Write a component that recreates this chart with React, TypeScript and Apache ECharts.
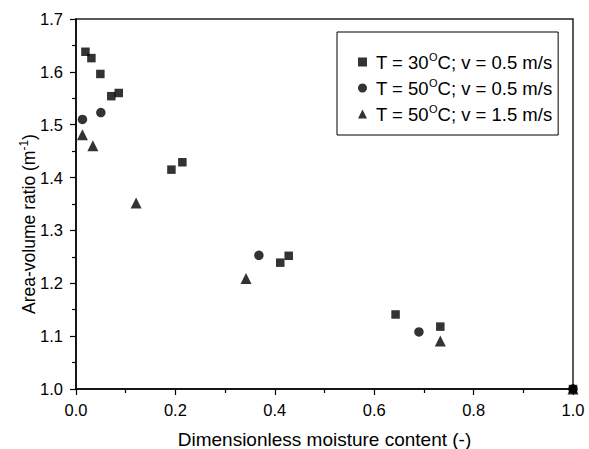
import React, { useEffect, useRef } from "react";
import * as echarts from "echarts";

const X_30_05 = [0.019, 0.031, 0.049, 0.071, 0.086, 0.192, 0.214, 0.411, 0.428, 0.643, 0.733, 1.0];
const Y_30_05 = [1.638, 1.626, 1.596, 1.554, 1.560, 1.415, 1.429, 1.239, 1.252, 1.141, 1.118, 1.0];
const X_50_05 = [0.013, 0.05, 0.368, 0.69, 1.0];
const Y_50_05 = [1.51, 1.523, 1.253, 1.108, 1.0];
const X_50_15 = [0.013, 0.034, 0.121, 0.342, 0.733, 1.0];
const Y_50_15 = [1.481, 1.46, 1.352, 1.209, 1.091, 1.0];

const SERIES_NAMES = ["T = 30OC; v = 0.5 m/s", "T = 50OC; v = 0.5 m/s", "T = 50OC; v = 1.5 m/s"];
const LEGEND_RICH = [
  "T = 30{sup|O}C; v = 0.5 m/s",
  "T = 50{sup|O}C; v = 0.5 m/s",
  "T = 50{sup|O}C; v = 1.5 m/s",
];
const X_TITLE = "Dimensionless moisture content (-)";
const Y_TITLE = "Area-volume ratio (m{sup|-1})";

const FONT = "'Liberation Sans', Arial, Helvetica, sans-serif";

const zip = (xs: number[], ys: number[]) => xs.map((x, i) => [x, ys[i]]);

export default function App() {
  const ref = useRef<HTMLDivElement>(null);
  useEffect(() => {
    if (!ref.current) return;
    const chart = echarts.init(ref.current, undefined, { renderer: "svg" });
    const sup = { fontSize: 11, lineHeight: 11, padding: [0, 0, 10, 0], fontFamily: FONT, color: "#000" };
    const supY = { fontSize: 12, lineHeight: 12, padding: [0, 0, 11, 0], fontFamily: FONT, color: "#000" };
    const axisCommon = {
      axisLine: { show: true, lineStyle: { color: "#000", width: 1.5 } },
      axisTick: { show: true, inside: false, length: 6, lineStyle: { color: "#000", width: 1.2 } },
      minorTick: { show: true, splitNumber: 2, length: 4, lineStyle: { color: "#000", width: 1.2 } },
      splitLine: { show: false },
    };
    const mk = (name: string, data: number[][], symbol: string, size: number) => ({
      type: "scatter",
      name,
      data,
      symbol,
      symbolSize: size,
      clip: true,
      itemStyle: { color: "#000" },
    });
    chart.setOption({
      animation: false,
      backgroundColor: "#fff",
      textStyle: { fontFamily: FONT, color: "#000" },
      grid: {
        left: 76,
        right: 16,
        top: 19,
        bottom: 60,
        containLabel: false,
        outerBoundsMode: "none",
        show: true,
        borderColor: "#222",
        borderWidth: 1.5,
        backgroundColor: "transparent",
      },
      legend: {
        orient: "vertical",
        left: 337,
        top: 32,
        padding: [19, 6, 10, 21],
        itemGap: 4,
        itemWidth: 9,
        itemHeight: 9,
        borderColor: "#000",
        borderWidth: 1,
        backgroundColor: "#fff",
        formatter: (name: string) => LEGEND_RICH[SERIES_NAMES.indexOf(name)],
        textStyle: {
          fontFamily: FONT,
          fontSize: 18.5,
          lineHeight: 22,
          color: "#000",
          padding: [0, 0, 0, 4],
          rich: { sup },
        },
      },
      xAxis: {
        type: "value",
        min: 0,
        max: 1,
        interval: 0.2,
        ...axisCommon,
        axisLabel: {
          margin: 12,
          fontSize: 16.5,
          fontFamily: FONT,
          color: "#000",
          formatter: (v: number) => v.toFixed(1),
        },
        name: X_TITLE,
        nameLocation: "middle",
        nameGap: 41,
        nameMoveOverlap: false,
        nameTextStyle: { fontSize: 19, lineHeight: 18, fontFamily: FONT, color: "#000" },
      },
      yAxis: {
        type: "value",
        min: 1.0,
        max: 1.7,
        interval: 0.1,
        ...axisCommon,
        axisLabel: {
          margin: 13,
          fontSize: 16.5,
          fontFamily: FONT,
          color: "#000",
          formatter: (v: number) => v.toFixed(1),
        },
        name: Y_TITLE,
        nameLocation: "middle",
        nameGap: 36,
        nameMoveOverlap: false,
        nameTextStyle: {
          fontSize: 17.5,
          lineHeight: 22,
          fontFamily: FONT,
          color: "#000",
          padding: [0, 40, 0, 0],
          rich: { sup: supY },
        },
      },
      series: [
        mk(SERIES_NAMES[0], zip(X_30_05, Y_30_05), "rect", 8.5),
        mk(SERIES_NAMES[1], zip(X_50_05, Y_50_05), "circle", 9.5),
        mk(SERIES_NAMES[2], zip(X_50_15, Y_50_15), "triangle", 11),
      ],
    });
    return () => chart.dispose();
  }, []);
  return (
    <div
      ref={ref}
      style={{ position: "absolute", left: 0, top: 0, width: 589, height: 449, background: "#fff" }}
    />
  );
}
